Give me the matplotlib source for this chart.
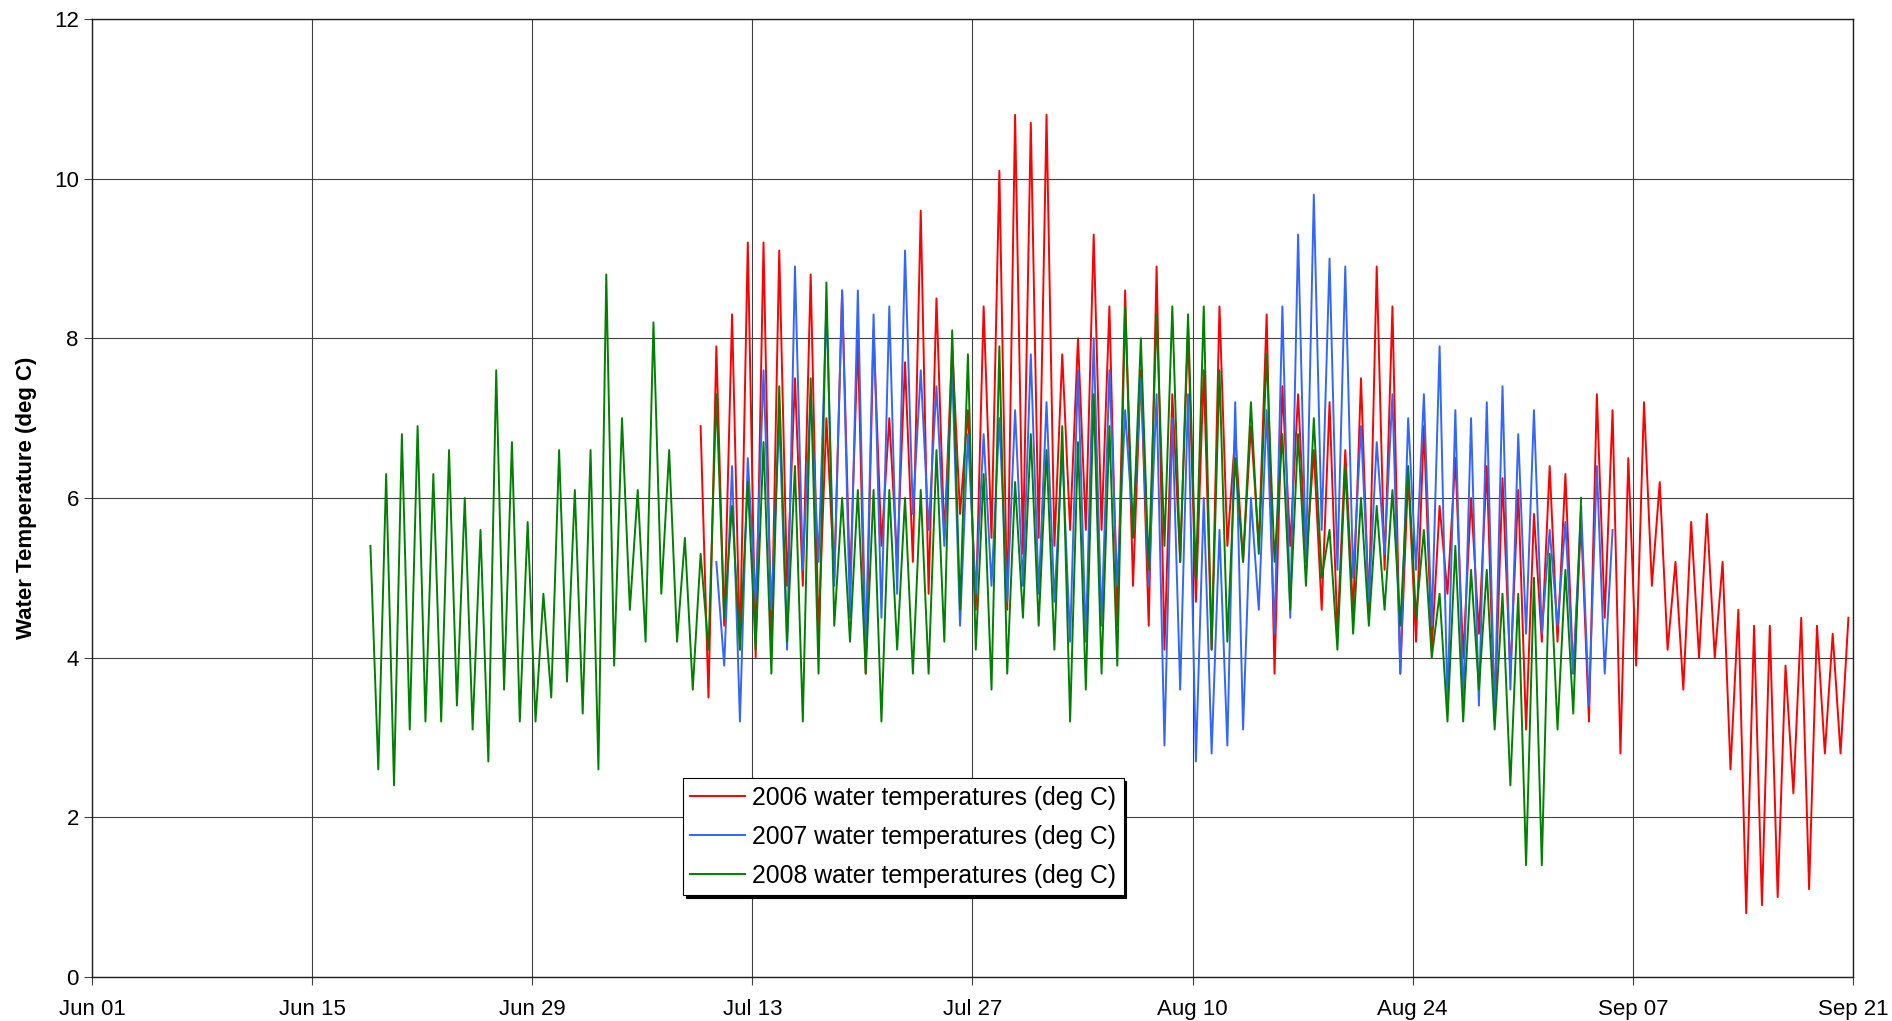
import numpy as np
import pandas as pd
import matplotlib
matplotlib.use("Agg")
import matplotlib.pyplot as plt
import matplotlib.dates as mdates

plt.rcParams['font.family'] = ['Liberation Sans', 'DejaVu Sans']

# daily highs / lows, one value every 12 h
start_2006 = "2000-07-09 17:00"
temps_2006 = [6.9, 3.5, 7.9, 4.4, 8.3, 4.1, 9.2, 4.0, 9.2, 4.1, 9.1, 4.9, 7.5, 4.9, 8.8, 4.3,
              7.0, 5.0, 8.6, 4.9, 8.0, 3.8, 8.1, 5.4, 7.0, 5.2, 7.7, 5.2, 9.6, 4.8, 8.5, 5.5,
              7.9, 5.8, 7.1, 4.6, 8.4, 5.5, 10.1, 4.6, 10.8, 5.3, 10.7, 5.5, 10.8, 5.4, 7.8, 5.6,
              8.0, 5.6, 9.3, 5.6, 8.4, 4.4, 8.6, 4.9, 7.6, 4.4, 8.9, 4.1, 7.3, 5.2, 8.1, 4.7,
              7.6, 4.1, 8.4, 5.4, 6.8, 5.2, 6.9, 5.4, 8.3, 3.8, 7.4, 5.4, 7.3, 5.2, 6.6, 4.6,
              7.2, 4.3, 6.6, 4.55, 7.5, 4.6, 8.9, 5.1, 8.4, 3.8, 6.3, 4.2, 6.9, 4.1, 5.9, 4.8,
              6.5, 4.0, 6.0, 4.3, 6.4, 3.2, 6.25, 3.8, 6.1, 3.1, 5.8, 4.2, 6.4, 4.2, 6.3, 3.8,
              5.7, 3.2, 7.3, 4.5, 7.1, 2.8, 6.5, 3.9, 7.2, 4.9, 6.2, 4.1, 5.2, 3.6, 5.7, 4.0,
              5.8, 4.0, 5.2, 2.6, 4.6, 0.8, 4.4, 0.9, 4.4, 1.0, 3.9, 2.3, 4.5, 1.1, 4.4, 2.8,
              4.3, 2.8, 4.5]

start_2007 = "2000-07-10 17:00"
temps_2007 = [5.2, 3.9, 6.4, 3.2, 6.5, 4.7, 7.6, 4.6, 7.0, 4.1, 8.9, 5.1, 7.3, 5.2, 8.4, 4.9,
              8.6, 4.5, 8.6, 4.1, 8.3, 4.5, 8.4, 4.8, 9.1, 5.8, 7.6, 5.6, 7.4, 5.4, 7.6, 4.4,
              6.8, 4.8, 6.8, 4.9, 7.0, 4.7, 7.1, 4.9, 7.8, 4.8, 7.2, 4.7, 6.6, 4.2, 7.6, 4.2,
              8.0, 4.4, 7.6, 4.9, 7.1, 5.6, 7.5, 4.9, 7.3, 2.9, 7.0, 3.6, 7.3, 2.7, 6.0, 2.8,
              5.6, 2.9, 7.2, 3.1, 6.0, 4.6, 7.1, 4.3, 8.4, 4.5, 9.3, 5.2, 9.8, 5.6, 9.0, 5.1,
              8.9, 5.0, 6.9, 4.7, 6.7, 5.3, 7.3, 3.8, 7.0, 5.1, 7.3, 4.4, 7.9, 3.4, 7.1, 3.4,
              7.0, 3.4, 7.2, 3.3, 7.4, 3.6, 6.8, 4.3, 7.1, 4.3, 5.6, 4.4, 5.7, 3.8, 5.9, 3.4,
              6.4, 3.8, 5.6]

start_2008 = "2000-06-18 17:00"
temps_2008 = [5.4, 2.6, 6.3, 2.4, 6.8, 3.1, 6.9, 3.2, 6.3, 3.2, 6.6, 3.4, 6.0, 3.1, 5.6, 2.7,
              7.6, 3.6, 6.7, 3.2, 5.7, 3.2, 4.8, 3.5, 6.6, 3.7, 6.1, 3.3, 6.6, 2.6, 8.8, 3.9,
              7.0, 4.6, 6.1, 4.2, 8.2, 4.8, 6.6, 4.2, 5.5, 3.6, 5.3, 4.1, 7.3, 4.5, 5.9, 4.1,
              6.2, 4.1, 6.7, 3.8, 7.4, 4.2, 6.4, 3.2, 7.5, 3.8, 8.7, 4.4, 6.0, 4.2, 6.1, 3.8,
              6.1, 3.2, 6.1, 4.1, 6.0, 3.8, 6.1, 3.8, 6.6, 4.2, 8.1, 4.6, 7.8, 4.1, 6.3, 3.6,
              7.9, 3.8, 6.2, 4.5, 6.8, 4.4, 6.6, 4.1, 6.9, 3.2, 6.7, 3.6, 7.3, 3.8, 6.9, 3.9,
              8.4, 5.5, 8.0, 5.1, 8.3, 5.4, 8.4, 5.2, 8.3, 5.0, 8.4, 4.1, 7.6, 4.2, 6.5, 5.2,
              7.2, 5.3, 7.8, 5.2, 6.8, 4.6, 6.8, 4.9, 7.0, 5.0, 5.6, 4.1, 6.4, 4.3, 6.0, 4.4,
              5.9, 4.6, 6.1, 4.4, 6.4, 4.5, 5.6, 4.0, 4.8, 3.2, 5.4, 3.2, 5.1, 3.6, 5.1, 3.1,
              4.8, 2.4, 4.8, 1.4, 5.0, 1.4, 5.3, 3.1, 5.1, 3.3, 6.0]

labels = ["2006 water temperatures (deg C)",
          "2007 water temperatures (deg C)",
          "2008 water temperatures (deg C)"]
colors = ["#FF0000", "#3366FF", "#008000"]

fig = plt.figure(figsize=(18.92, 10.21), dpi=100)
ax = fig.add_axes([92 / 1892, 44 / 1021, 1761 / 1892, 958 / 1021])

for start, vals, lab, col in zip([start_2006, start_2007, start_2008],
                                 [temps_2006, temps_2007, temps_2008], labels, colors):
    t = pd.date_range(start, periods=len(vals), freq="12h")
    ax.plot(t, vals, color=col, lw=1.4, label=lab)

ax.set_xlim(pd.Timestamp("2000-06-01"), pd.Timestamp("2000-09-21"))
ax.set_ylim(0, 12)
ax.set_xticks(pd.date_range("2000-06-01", "2000-09-21", freq="14D"))
ax.xaxis.set_major_formatter(mdates.DateFormatter("%b %d"))
ax.set_yticks(range(0, 13, 2))
ax.tick_params(labelsize=16, length=6, width=0.8, color="#404040")
ax.tick_params(axis="x", pad=10)
ax.grid(True, color="#404040", lw=0.8)
ax.set_axisbelow(True)
for s in ax.spines.values():
    s.set_color("#202020")
    s.set_linewidth(1.0)

ax.set_ylabel("Water Temperature (deg C)", fontsize=16, fontweight="bold", labelpad=12)

leg = ax.legend(loc="lower left", bbox_to_anchor=(0.3356, 0.0856), fontsize=17.8,
                frameon=True, fancybox=False, shadow={"color": "black", "alpha": 1},
                handlelength=2.2, handletextpad=0.3, borderpad=0.3, labelspacing=0.6,
                borderaxespad=0)
leg.get_frame().set_edgecolor("black")
leg.get_frame().set_linewidth(0.8)
for h in leg.get_lines():
    h.set_linewidth(1.4)

fig.savefig("out.png", dpi=100)
